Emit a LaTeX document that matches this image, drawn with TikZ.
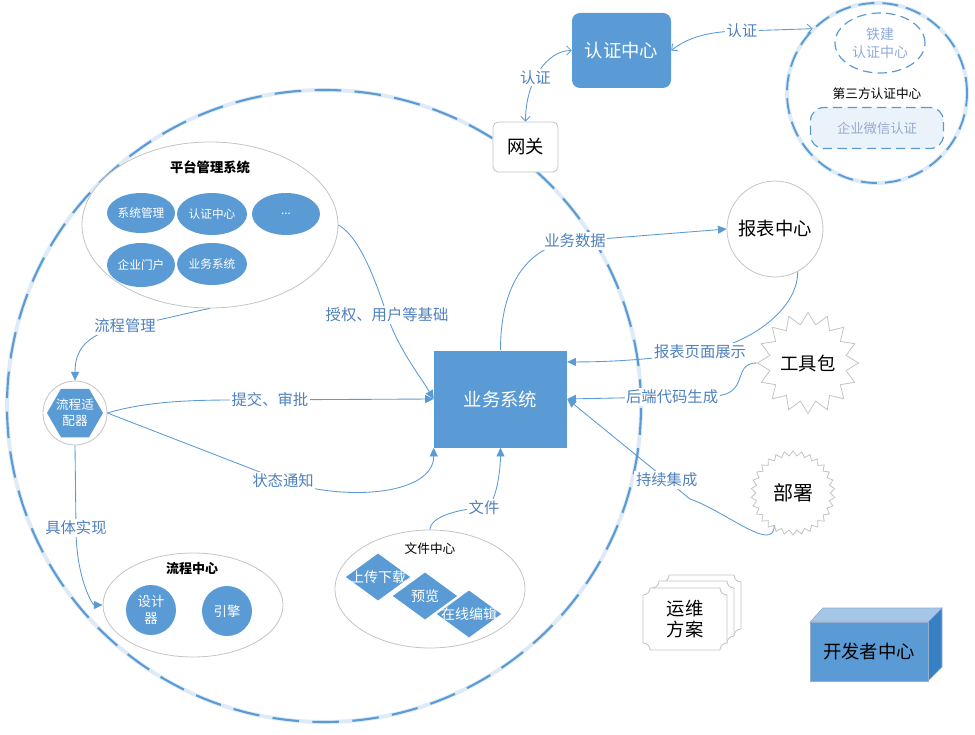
\documentclass[tikz,border=0pt]{standalone}
\usepackage{fontspec}
\setmainfont{Noto Sans CJK SC}
\usetikzlibrary{shapes.geometric,arrows.meta,calc}
\definecolor{bl}{RGB}{91,155,213}
\definecolor{lb}{RGB}{79,129,189}
\definecolor{gb}{RGB}{196,196,196}
\definecolor{lt}{RGB}{143,170,220}
\definecolor{ltb}{RGB}{150,170,205}
\definecolor{topf}{RGB}{165,198,231}
\definecolor{sidef}{RGB}{56,128,196}
\definecolor{glow}{RGB}{222,235,247}
\definecolor{cubeb}{RGB}{150,175,205}
\newcommand{\plaq}[4]{%
\filldraw[draw=gb, fill=white, line width=0.6pt]
 ({#1+7},{#2}) -- ({#3-7},{#2})
 .. controls ({#3-7},{#2+3.9}) and ({#3-3.9},{#2+7}) .. ({#3},{#2+7})
 -- ({#3},{#4-7})
 .. controls ({#3-3.9},{#4-7}) and ({#3-7},{#4-3.9}) .. ({#3-7},{#4})
 -- ({#1+7},{#4})
 .. controls ({#1+7},{#4-3.9}) and ({#1+3.9},{#4-7}) .. ({#1},{#4-7})
 -- ({#1},{#2+7})
 .. controls ({#1+3.9},{#2+7}) and ({#1+7},{#2+3.9}) .. cycle;}
\tikzset{
 conn/.style={draw=bl, line width=0.65pt},
 tri/.style={conn, -{Triangle[length=6.5pt,width=6pt]}},
 barb/.style={conn, {Straight Barb[length=3.5pt,width=7pt]}-{Straight Barb[length=3.5pt,width=7pt]}},
 lbl/.style={fill=white, text=lb, font=\fontsize{11.5}{13}\selectfont, inner sep=1.2pt},
 bigt/.style={font=\fontsize{13.75}{16}\selectfont},
 wshape/.style={draw=gb, fill=white, line width=0.6pt},
 bshape/.style={fill=bl, draw=none, text=white},
 small/.style={font=\fontsize{8.75}{10.5}\selectfont},
 inell/.style={ellipse, bshape, inner sep=0pt, small},
 dia/.style={diamond, fill=bl, draw=white, line width=0.8pt, minimum width=50.25pt, minimum height=36.75pt, inner sep=0pt},
 diat/.style={text=white, font=\fontsize{10.5}{12}\selectfont},
}
\begin{document}
\begin{tikzpicture}[x=0.75pt,y=-0.75pt]
\useasboundingbox (0,0) rectangle (975,735);

% big zone
\draw[glow, line width=3pt] (324,406) ellipse [x radius=237.75pt, y radius=237pt];
\node[ellipse, draw=bl, line width=1.6pt, dash pattern=on 20pt off 10pt, minimum width=475.5pt, minimum height=474pt, inner sep=0pt] (zone) at (324,406) {};

% auth centre and gateway
\node[bshape, rounded corners=6pt, minimum width=74.25pt, minimum height=56.25pt, bigt] (auth) at (621.5,50.5) {认证中心};
\node[wshape, rounded corners=4pt, minimum width=48.75pt, minimum height=37.5pt, bigt] (gw) at (525.5,147) {网关};

% third party auth
\draw[glow, line width=3pt] (877,93) circle [radius=67.5pt];
\node[circle, draw=bl, line width=1.4pt, dash pattern=on 12pt off 6pt, minimum size=135pt, inner sep=0pt] (third) at (877,93) {};
\node[ellipse, draw=bl, line width=0.9pt, dash pattern=on 7pt off 4pt, minimum width=67.5pt, minimum height=45pt, inner sep=0pt, text=lt, align=center, font=\fontsize{10.5}{13.5}\selectfont] (tj) at (880,43) {铁建\\认证中心};
\node[font=\fontsize{9.5}{11}\selectfont] (tlbl) at (877,94) {第三方认证中心};
\node[rounded corners=10pt, draw=bl, line width=0.9pt, dash pattern=on 7pt off 4pt, fill=glow!60, minimum width=99.75pt, minimum height=30.75pt, text=ltb, font=\fontsize{10}{12}\selectfont] (wx) at (877,128) {企业微信认证};

% report, business, tools
\node[circle, wshape, minimum size=72pt, inner sep=0pt, bigt] (rpt) at (775,229) {报表中心};
\node[bshape, minimum width=99.75pt, minimum height=72.75pt, bigt] (biz) at (500.5,399) {业务系统};
\node[star, star points=16, star point ratio=1.3, wshape, minimum size=61.5pt, inner sep=0pt, bigt] (tool) at (808,363) {工具包};
\node[star, star points=30, star point ratio=1.13, wshape, minimum size=63pt, inner sep=0pt, font=\fontsize{15}{17}\selectfont] (deploy) at (793,493) {部署};

% platform management
\node[ellipse, wshape, minimum width=192pt, minimum height=124.5pt] (plat) at (210,225) {};
\node[font=\bfseries\fontsize{10}{12}\selectfont] (platt) at (210,167) {平台管理系统};
\node[inell, minimum width=51pt, minimum height=30pt] (p1) at (141,213) {系统管理};
\node[inell, minimum width=52.5pt, minimum height=31.5pt] (p2) at (212,214) {认证中心};
\node[inell, minimum width=51pt, minimum height=31.5pt] (p3) at (286,214) {...};
\node[inell, minimum width=51pt, minimum height=33pt] (p4) at (141,265) {企业门户};
\node[inell, minimum width=52.5pt, minimum height=31.5pt] (p5) at (212,264) {业务系统};

% adapter
\node[circle, wshape, minimum size=48pt, inner sep=0pt] (adp) at (75,413) {};
\node[regular polygon, regular polygon sides=6, minimum size=42pt, fill=bl, inner sep=0pt] (hex) at (adp.center) {};
\node[text=white, align=center, font=\fontsize{9.5}{12}\selectfont] (hext) at (adp.center) {流程适\\配器};

% flow centre
\node[ellipse, wshape, minimum width=135pt, minimum height=78pt] (flow) at (193,605) {};
\node[font=\bfseries\fontsize{9.75}{12}\selectfont] (flowt) at (192,569) {流程中心};
\node[circle, bshape, minimum size=37.5pt, inner sep=0pt, align=center, font=\fontsize{10}{13}\selectfont] (des) at (151,610) {设计\\器};
\node[circle, bshape, minimum size=37.5pt, inner sep=0pt, font=\fontsize{10}{12}\selectfont] (eng) at (227,611) {引擎};

% file centre
\node[ellipse, wshape, minimum width=142.5pt, minimum height=88.5pt] (file) at (430,589) {};
\node[font=\fontsize{9.5}{12}\selectfont] (filet) at (430,549) {文件中心};
\node[dia] (d1) at (378,577) {};
\node[dia] (d2) at (425,596) {};
\node[dia] (d3) at (469,614) {};
\node[diat] (d1t) at (378,577) {上传下载};
\node[diat] (d2t) at (425,596) {预览};
\node[diat] (d3t) at (469,614) {在线编辑};

% ops plan
\plaq{662}{575}{741}{636}
\plaq{652}{581}{734}{643}
\plaq{643}{588}{727}{650}
\node[bigt, align=center] (ops) at (685,619) {运维\\方案};

% developer centre cube
\filldraw[draw=cubeb, fill=topf, line width=0.5pt] (810,622) -- (823,608) -- (942,608) -- (928,622) -- cycle;
\filldraw[draw=cubeb, fill=sidef, line width=0.5pt] (928,622) -- (942,608) -- (942,667) -- (928,681) -- cycle;
\filldraw[draw=cubeb, fill=bl, line width=0.5pt] (810,622) rectangle (928,681);
\node[bigt] (dev) at (869,651.5) {开发者中心};

% connectors
\draw[barb] (gw.north) .. controls +(0,-40) and +(-25,0) .. node[lbl, pos=0.42]{认证} (auth.west);
\draw[barb] (auth.east) .. controls +(15,-12) and +(-35,0) .. (742,31) node[lbl]{认证} -- (third.135);
\draw[tri] (biz.north) .. controls +(0,-75) and +(-40,3) .. (575,241) node[lbl]{业务数据} -- (rpt.west);
\draw[tri] (rpt.-62) .. controls +(0,40) and +(45,-6) .. (700,352) node[lbl]{报表页面展示} .. controls +(-50,8) and +(40,0) .. ($(biz.north east)!0.12!(biz.south east)$);
\draw[tri] (tool.180) .. controls +(-25,0) and +(35,-2) .. (715,396) -- node[lbl, pos=0.29]{后端代码生成} (biz.east);
\draw[tri] (deploy.-120) .. controls +(0,28) and +(35,12) .. (690,499) -- node[lbl, pos=0.19]{持续集成} (biz.east);
\draw[tri] (plat.east) .. controls +(22,12) and +(-10,-30) .. (387,315) node[lbl]{授权、用户等基础} .. controls +(12,35) and +(-15,-25) .. (biz.west);
\draw[tri] (plat.south) .. controls +(-30,6) and +(30,-4) .. (125,326) node[lbl]{流程管理} .. controls +(-40,8) and +(0,-30) .. (adp.north);
\draw[tri] (adp.east) .. controls +(40,-12) and +(-40,0) .. (235,400) -- node[lbl, pos=0.176]{提交、审批} (biz.west);
\draw[tri] (adp.east) -- (283,481) node[lbl]{状态通知} .. controls +(70,22) and +(0,45) .. (biz.south west);
\draw[tri] (adp.south) -- (76,528) node[lbl]{具体实现} .. controls +(0,50) and +(-10,0) .. (flow.west);
\draw[tri] (file.north) .. controls +(0,-14) and +(-20,0) .. (484,508) node[lbl]{文件} .. controls +(12,0) and +(0,22) .. (biz.south);
\end{tikzpicture}
\end{document}
